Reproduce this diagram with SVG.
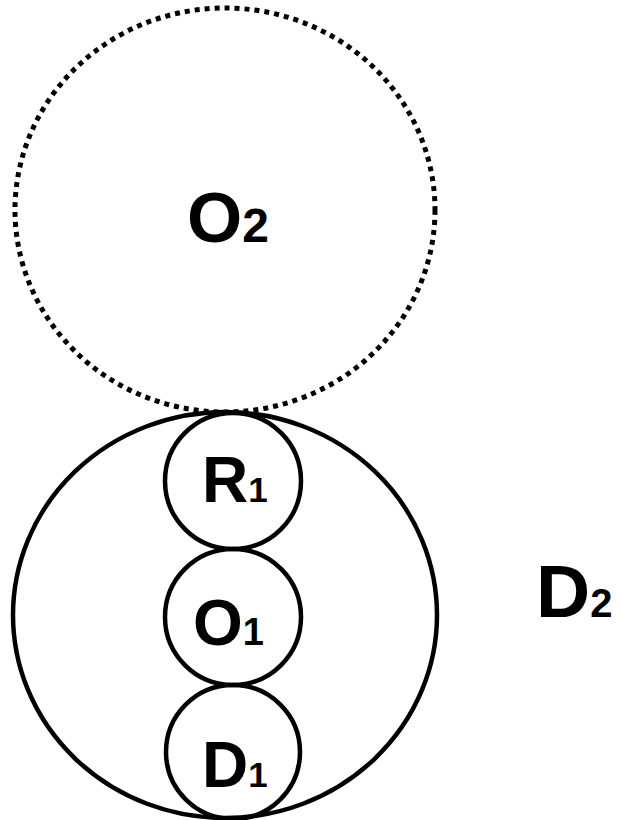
<svg xmlns="http://www.w3.org/2000/svg" width="621" height="820" viewBox="0 0 621 820">
<style>
.c{fill:none;stroke:#000;stroke-width:4.5}
.d{fill:none;stroke:#000;stroke-width:5;stroke-dasharray:5 5}
.t{font-family:"Liberation Sans",Arial,sans-serif;font-weight:bold;fill:#000}
</style>
<rect width="621" height="820" fill="#fff"/>
<g id="O2">
<ellipse class="d" cx="225" cy="210" rx="210" ry="202"/>
<text class="t" x="187" y="242" font-size="71">O<tspan font-size="48">2</tspan></text>
</g>
<g id="D2">
<ellipse class="c" cx="225" cy="615" rx="212" ry="203"/>
<text class="t" x="536" y="617" font-size="75">D<tspan font-size="40">2</tspan></text>
</g>
<g id="R1">
<circle class="c" cx="233" cy="481" r="68"/>
<text class="t" x="202" y="502" font-size="64">R<tspan font-size="35">1</tspan></text>
</g>
<g id="O1">
<circle class="c" cx="233" cy="617" r="68"/>
<text class="t" x="193" y="645" font-size="64">O<tspan font-size="38">1</tspan></text>
</g>
<g id="D1">
<circle class="c" cx="233" cy="752" r="67"/>
<text class="t" x="202" y="787" font-size="64">D<tspan font-size="35">1</tspan></text>
</g>
<g id="connectors"></g>
</svg>
